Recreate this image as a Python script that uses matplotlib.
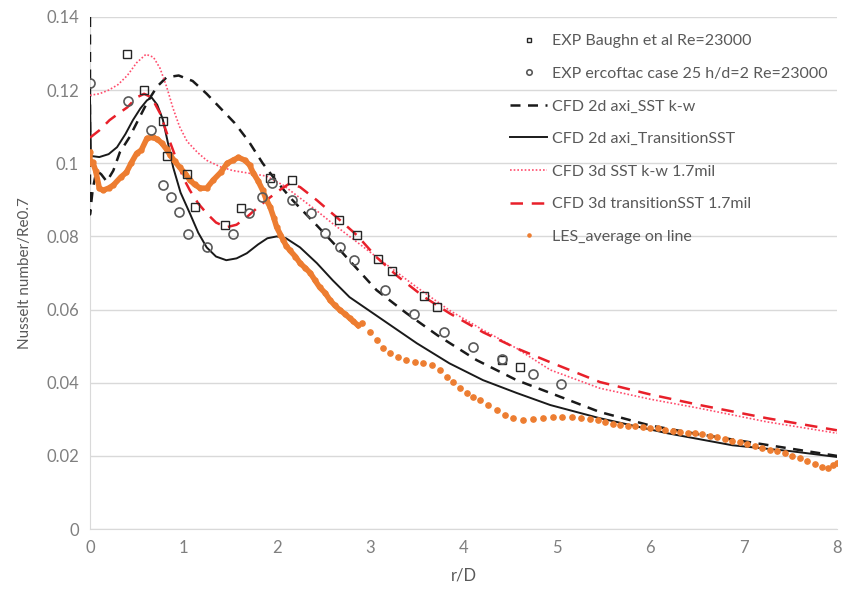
import matplotlib
matplotlib.use("Agg")
import matplotlib.pyplot as plt

plt.rcParams['font.family'] = ['Lato', 'DejaVu Sans']

# EXP Baughn et al (squares)
baughn_x = [0.40, 0.58, 0.78, 0.82, 1.04, 1.12, 1.45, 1.62, 1.93, 2.16, 2.67, 2.86,
            3.08, 3.23, 3.58, 3.72, 4.41, 4.61]
baughn_y = [0.130, 0.120, 0.1115, 0.102, 0.097, 0.088, 0.083, 0.0877, 0.096, 0.0955,
            0.0845, 0.0803, 0.0738, 0.0705, 0.0637, 0.0607, 0.0462, 0.0443]

# EXP ercoftac case 25 (circles)
ercoftac_x = [0.0, 0.41, 0.65, 0.78, 0.87, 0.95, 1.05, 1.25, 1.53, 1.70, 1.84, 1.95,
              2.16, 2.37, 2.52, 2.68, 2.83, 3.16, 3.47, 3.79, 4.10, 4.41, 4.74, 5.05]
ercoftac_y = [0.122, 0.117, 0.109, 0.094, 0.0907, 0.0866, 0.0806, 0.0771, 0.0806,
              0.0864, 0.0907, 0.0945, 0.090, 0.0863, 0.0809, 0.0771, 0.0735, 0.0653,
              0.0587, 0.0538, 0.0497, 0.0464, 0.0423, 0.0396]

# CFD 2d axi SST k-w
sst2d_x = [0.0, 0.0, 0.03, 0.07, 0.12, 0.18, 0.25, 0.32, 0.42, 0.52, 0.62, 0.72, 0.82,
           0.95, 1.1, 1.25, 1.4, 1.55, 1.7, 1.85, 2.0, 2.17, 2.43, 2.68, 3.07, 3.39,
           3.72, 4.14, 4.57, 4.93, 5.46, 6.0, 6.5, 7.0, 7.5, 8.0]
sst2d_y = [0.14, 0.086, 0.093, 0.098, 0.097, 0.095, 0.098, 0.103, 0.107, 0.112, 0.117,
           0.121, 0.1235, 0.124, 0.1225, 0.119, 0.115, 0.111, 0.106, 0.100, 0.095,
           0.0899, 0.083, 0.0762, 0.0653, 0.059, 0.053, 0.0462, 0.0407, 0.0372, 0.032,
           0.0283, 0.026, 0.024, 0.022, 0.020]

# CFD 2d axi TransitionSST
trans2d_x = [0.0, 0.01, 0.1, 0.2, 0.29, 0.38, 0.46, 0.54, 0.61, 0.66, 0.72, 0.78, 0.84,
             0.89, 0.97, 1.07, 1.16, 1.25, 1.35, 1.46, 1.57, 1.68, 1.8, 1.9, 2.0, 2.1,
             2.25, 2.43, 2.6, 2.78, 3.14, 3.5, 3.85, 4.21, 4.57, 4.93, 5.46, 6.18, 6.88,
             7.5, 8.0]
trans2d_y = [0.1186, 0.102, 0.1017, 0.1025, 0.1044, 0.108, 0.1118, 0.115, 0.1172, 0.118,
             0.116, 0.112, 0.105, 0.099, 0.092, 0.0863, 0.081, 0.077, 0.0745, 0.0735,
             0.074, 0.0754, 0.0778, 0.0795, 0.080, 0.0795, 0.077, 0.0727, 0.068, 0.0634,
             0.0571, 0.0508, 0.0453, 0.0407, 0.0372, 0.0339, 0.0303, 0.0262, 0.0229,
             0.0213, 0.0197]

# CFD 3d SST k-w 1.7mil
sst3d_x = [0.0, 0.1, 0.2, 0.3, 0.4, 0.5, 0.6, 0.68, 0.75, 0.82, 0.89, 0.96, 1.04, 1.15,
           1.25, 1.4, 1.53, 1.7, 1.89, 2.07, 2.25, 2.43, 2.6, 2.78, 2.96, 3.14, 3.5,
           3.85, 4.21, 4.57, 4.93, 5.46, 6.0, 6.53, 7.25, 8.0]
sst3d_y = [0.1186, 0.119, 0.120, 0.1215, 0.124, 0.1275, 0.1298, 0.129, 0.126, 0.121,
           0.115, 0.110, 0.106, 0.103, 0.1008, 0.099, 0.098, 0.0973, 0.0965, 0.094,
           0.0905, 0.087, 0.0835, 0.080, 0.0765, 0.073, 0.0661, 0.0598, 0.0544, 0.0494,
           0.0435, 0.0385, 0.0355, 0.033, 0.0293, 0.0262]

# CFD 3d transitionSST 1.7mil
trans3d_x = [0.0, 0.1, 0.21, 0.3, 0.4, 0.5, 0.58, 0.66, 0.75, 0.84, 0.93, 1.0, 1.07, 1.16,
             1.25, 1.35, 1.46, 1.57, 1.68, 1.8, 1.93, 2.05, 2.14, 2.25, 2.43, 2.68, 2.86,
             3.07, 3.3, 3.57, 3.85, 4.21, 4.57, 4.93, 5.46, 6.0, 6.53, 7.25, 8.0]
trans3d_y = [0.107, 0.109, 0.1118, 0.1135, 0.1153, 0.118, 0.119, 0.118, 0.1137, 0.107,
             0.1008, 0.096, 0.0926, 0.089, 0.0863, 0.0838, 0.0825, 0.0832, 0.0853, 0.088,
             0.0907, 0.093, 0.0945, 0.0935, 0.0899, 0.0844, 0.0803, 0.0743, 0.069, 0.0636,
             0.059, 0.0538, 0.0494, 0.0456, 0.0402, 0.0368, 0.0339, 0.0303, 0.027]

# LES average on line, dense part (near wall jet region)
les_dense_x = [0.0, 0.0, 0.03, 0.06, 0.1, 0.14, 0.2, 0.25, 0.33, 0.39, 0.44, 0.5, 0.55,
               0.61, 0.67, 0.72, 0.77, 0.82, 0.86, 0.91, 0.96, 1.02, 1.07, 1.12, 1.18,
               1.25, 1.32, 1.4, 1.47, 1.53, 1.59, 1.66, 1.71, 1.75, 1.8, 1.85, 1.89,
               1.93, 1.97, 2.0, 2.04, 2.07, 2.1, 2.14, 2.2, 2.25, 2.3, 2.36, 2.41, 2.46,
               2.52, 2.57, 2.62, 2.68, 2.73, 2.78, 2.82, 2.87]
les_dense_y = [0.103, 0.100, 0.1003, 0.098, 0.0932, 0.0926, 0.0932, 0.094, 0.0962,
               0.0975, 0.100, 0.1027, 0.1036, 0.1068, 0.1071, 0.1066, 0.1055, 0.1038,
               0.1022, 0.1005, 0.0989, 0.0972, 0.0954, 0.0942, 0.0932, 0.0932, 0.0954,
               0.0975, 0.100, 0.1008, 0.1016, 0.1008, 0.0995, 0.0973, 0.0952, 0.0926,
               0.090, 0.088, 0.085, 0.0825, 0.0805, 0.079, 0.0775, 0.0762, 0.0745,
               0.0727, 0.0715, 0.070, 0.068, 0.0661, 0.0645, 0.0626, 0.0612, 0.0598,
               0.0588, 0.0577, 0.0568, 0.0557]

# LES average on line, sparse part
les_sparse_x = [2.91, 3.0, 3.07, 3.14, 3.21, 3.3, 3.39, 3.48, 3.57, 3.66, 3.75, 3.82,
                3.89, 3.96, 4.04, 4.1, 4.18, 4.26, 4.36, 4.44, 4.53, 4.64, 4.74, 4.85,
                4.96, 5.06, 5.16, 5.26, 5.36, 5.44, 5.52, 5.6, 5.68, 5.76, 5.84, 5.92,
                6.0, 6.08, 6.16, 6.24, 6.32, 6.4, 6.48, 6.56, 6.64, 6.72, 6.8, 6.88,
                6.96, 7.04, 7.12, 7.2, 7.28, 7.36, 7.44, 7.52, 7.6, 7.68, 7.76, 7.84,
                7.9, 7.96, 8.0]
les_sparse_y = [0.0563, 0.0538, 0.0516, 0.0494, 0.0481, 0.047, 0.0462, 0.0456, 0.0453,
                0.0448, 0.0434, 0.0415, 0.0402, 0.0385, 0.0372, 0.0361, 0.0352, 0.0339,
                0.0325, 0.0311, 0.0303, 0.0298, 0.030, 0.0303, 0.0306, 0.0306, 0.0305,
                0.0303, 0.030, 0.0297, 0.0293, 0.0288, 0.0285, 0.0283, 0.0281, 0.0279,
                0.0277, 0.0275, 0.0272, 0.0269, 0.0266, 0.0263, 0.0262, 0.0259, 0.0255,
                0.0251, 0.0247, 0.0242, 0.0237, 0.0232, 0.0227, 0.0222, 0.0217, 0.0212,
                0.0207, 0.0200, 0.0193, 0.0186, 0.0178, 0.0170, 0.0168, 0.0175, 0.0180]

x_ticks = [0, 1, 2, 3, 4, 5, 6, 7, 8]
y_ticks = [0, 0.02, 0.04, 0.06, 0.08, 0.1, 0.12, 0.14]
y_tick_labels = ['0', '0.02', '0.04', '0.06', '0.08', '0.1', '0.12', '0.14']

orange = '#ed7d31'
fig = plt.figure(figsize=(8.44, 5.94), dpi=100)
ax = fig.add_axes([0.1066, 0.1094, 0.885, 0.862])

ax.plot(baughn_x, baughn_y, linestyle='none', marker='s', markersize=5.5,
        markerfacecolor='none', markeredgecolor='#262626', markeredgewidth=1.0,
        label='EXP Baughn et al Re=23000', zorder=5)
ax.plot(ercoftac_x, ercoftac_y, linestyle='none', marker='o', markersize=6.5,
        markerfacecolor='none', markeredgecolor='#595959', markeredgewidth=1.2,
        label='EXP ercoftac case 25 h/d=2 Re=23000', zorder=5)
ax.plot(sst2d_x, sst2d_y, color='#1a1a1a', linewidth=1.8, linestyle=(0, (4, 3)),
        label='CFD 2d axi_SST k-w', zorder=3)
ax.plot(trans2d_x, trans2d_y, color='#1a1a1a', linewidth=1.4,
        label='CFD 2d axi_TransitionSST', zorder=3)
ax.plot(sst3d_x, sst3d_y, color='#ff4d6d', linewidth=1.2, linestyle=(0, (1, 1.2)),
        label='CFD 3d SST k-w 1.7mil', zorder=3)
ax.plot(trans3d_x, trans3d_y, color='#e8202a', linewidth=1.8, linestyle=(0, (5, 3.5)),
        label='CFD 3d transitionSST 1.7mil', zorder=3)
ax.plot(les_dense_x, les_dense_y, color=orange, linewidth=4, marker='o',
        markersize=3.5, zorder=4)
ax.plot(les_sparse_x, les_sparse_y, linestyle='none', marker='o', markersize=3.8,
        color=orange, label='LES_average on line', zorder=4)

ax.set_xlim(0, 8)
ax.set_ylim(0, 0.14)
ax.set_xticks(x_ticks)
ax.set_yticks(y_ticks)
ax.set_yticklabels(y_tick_labels)
ax.grid(axis='y', color='#d9d9d9', linewidth=1)
ax.set_axisbelow(True)
for side in ['top', 'right']:
    ax.spines[side].set_visible(False)
ax.spines['left'].set_color('#d9d9d9')
ax.spines['bottom'].set_color('#d9d9d9')
ax.tick_params(length=0, labelsize=12, colors='#7f7f7f', pad=8)
ax.set_xlabel('r/D', fontsize=12, color='#595959', labelpad=8)
ax.set_ylabel('Nusselt number/Re0.7', fontsize=11, color='#595959', labelpad=10)

leg = ax.legend(loc='upper right', bbox_to_anchor=(1.0, 0.985), frameon=False,
                fontsize=11.5, labelspacing=1.15, handlelength=2.3, handletextpad=0.3,
                borderaxespad=0.2, markerscale=0.6)
for t in leg.get_texts():
    t.set_color('#595959')

fig.savefig('out.png', dpi=100, facecolor='white')
